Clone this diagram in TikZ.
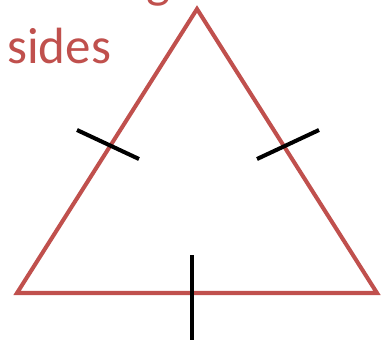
\documentclass[tikz,border=0pt]{standalone}
\usepackage{fontspec}
\setmainfont{Carlito}
\usepackage{xcolor}
\usepackage{tikz}
\usetikzlibrary{positioning}
\definecolor{sidered}{RGB}{192,80,77}

\begin{document}
\begin{tikzpicture}[
    x=0.02cm, y=-0.02cm,
    side/.style={draw=sidered, line width=2.3pt, line join=miter},
    tickmark/.style={draw=black, line width=2.3pt},
    lbl/.style={text=sidered, font=\fontsize{29}{35}\selectfont, inner sep=0pt}
]
\useasboundingbox (0,0) rectangle (381,345);
\clip (0,0) rectangle (381,345);

\coordinate (apex) at (197,9);
\coordinate (left) at (17,293);
\coordinate (right) at (377,293);

\node[lbl, anchor=base east] (gtail) at (171,-3) {g};
\node[lbl, anchor=base west] (sides) at (7,63) {sides};

\draw[side] (apex) -- (left) -- (right) -- cycle;

% equal-length marks
\draw[tickmark] (77,130) -- (139,159);
\draw[tickmark] (257,159) -- (319,130);
\draw[tickmark] (192,255) -- (192,340);
\end{tikzpicture}
\end{document}
